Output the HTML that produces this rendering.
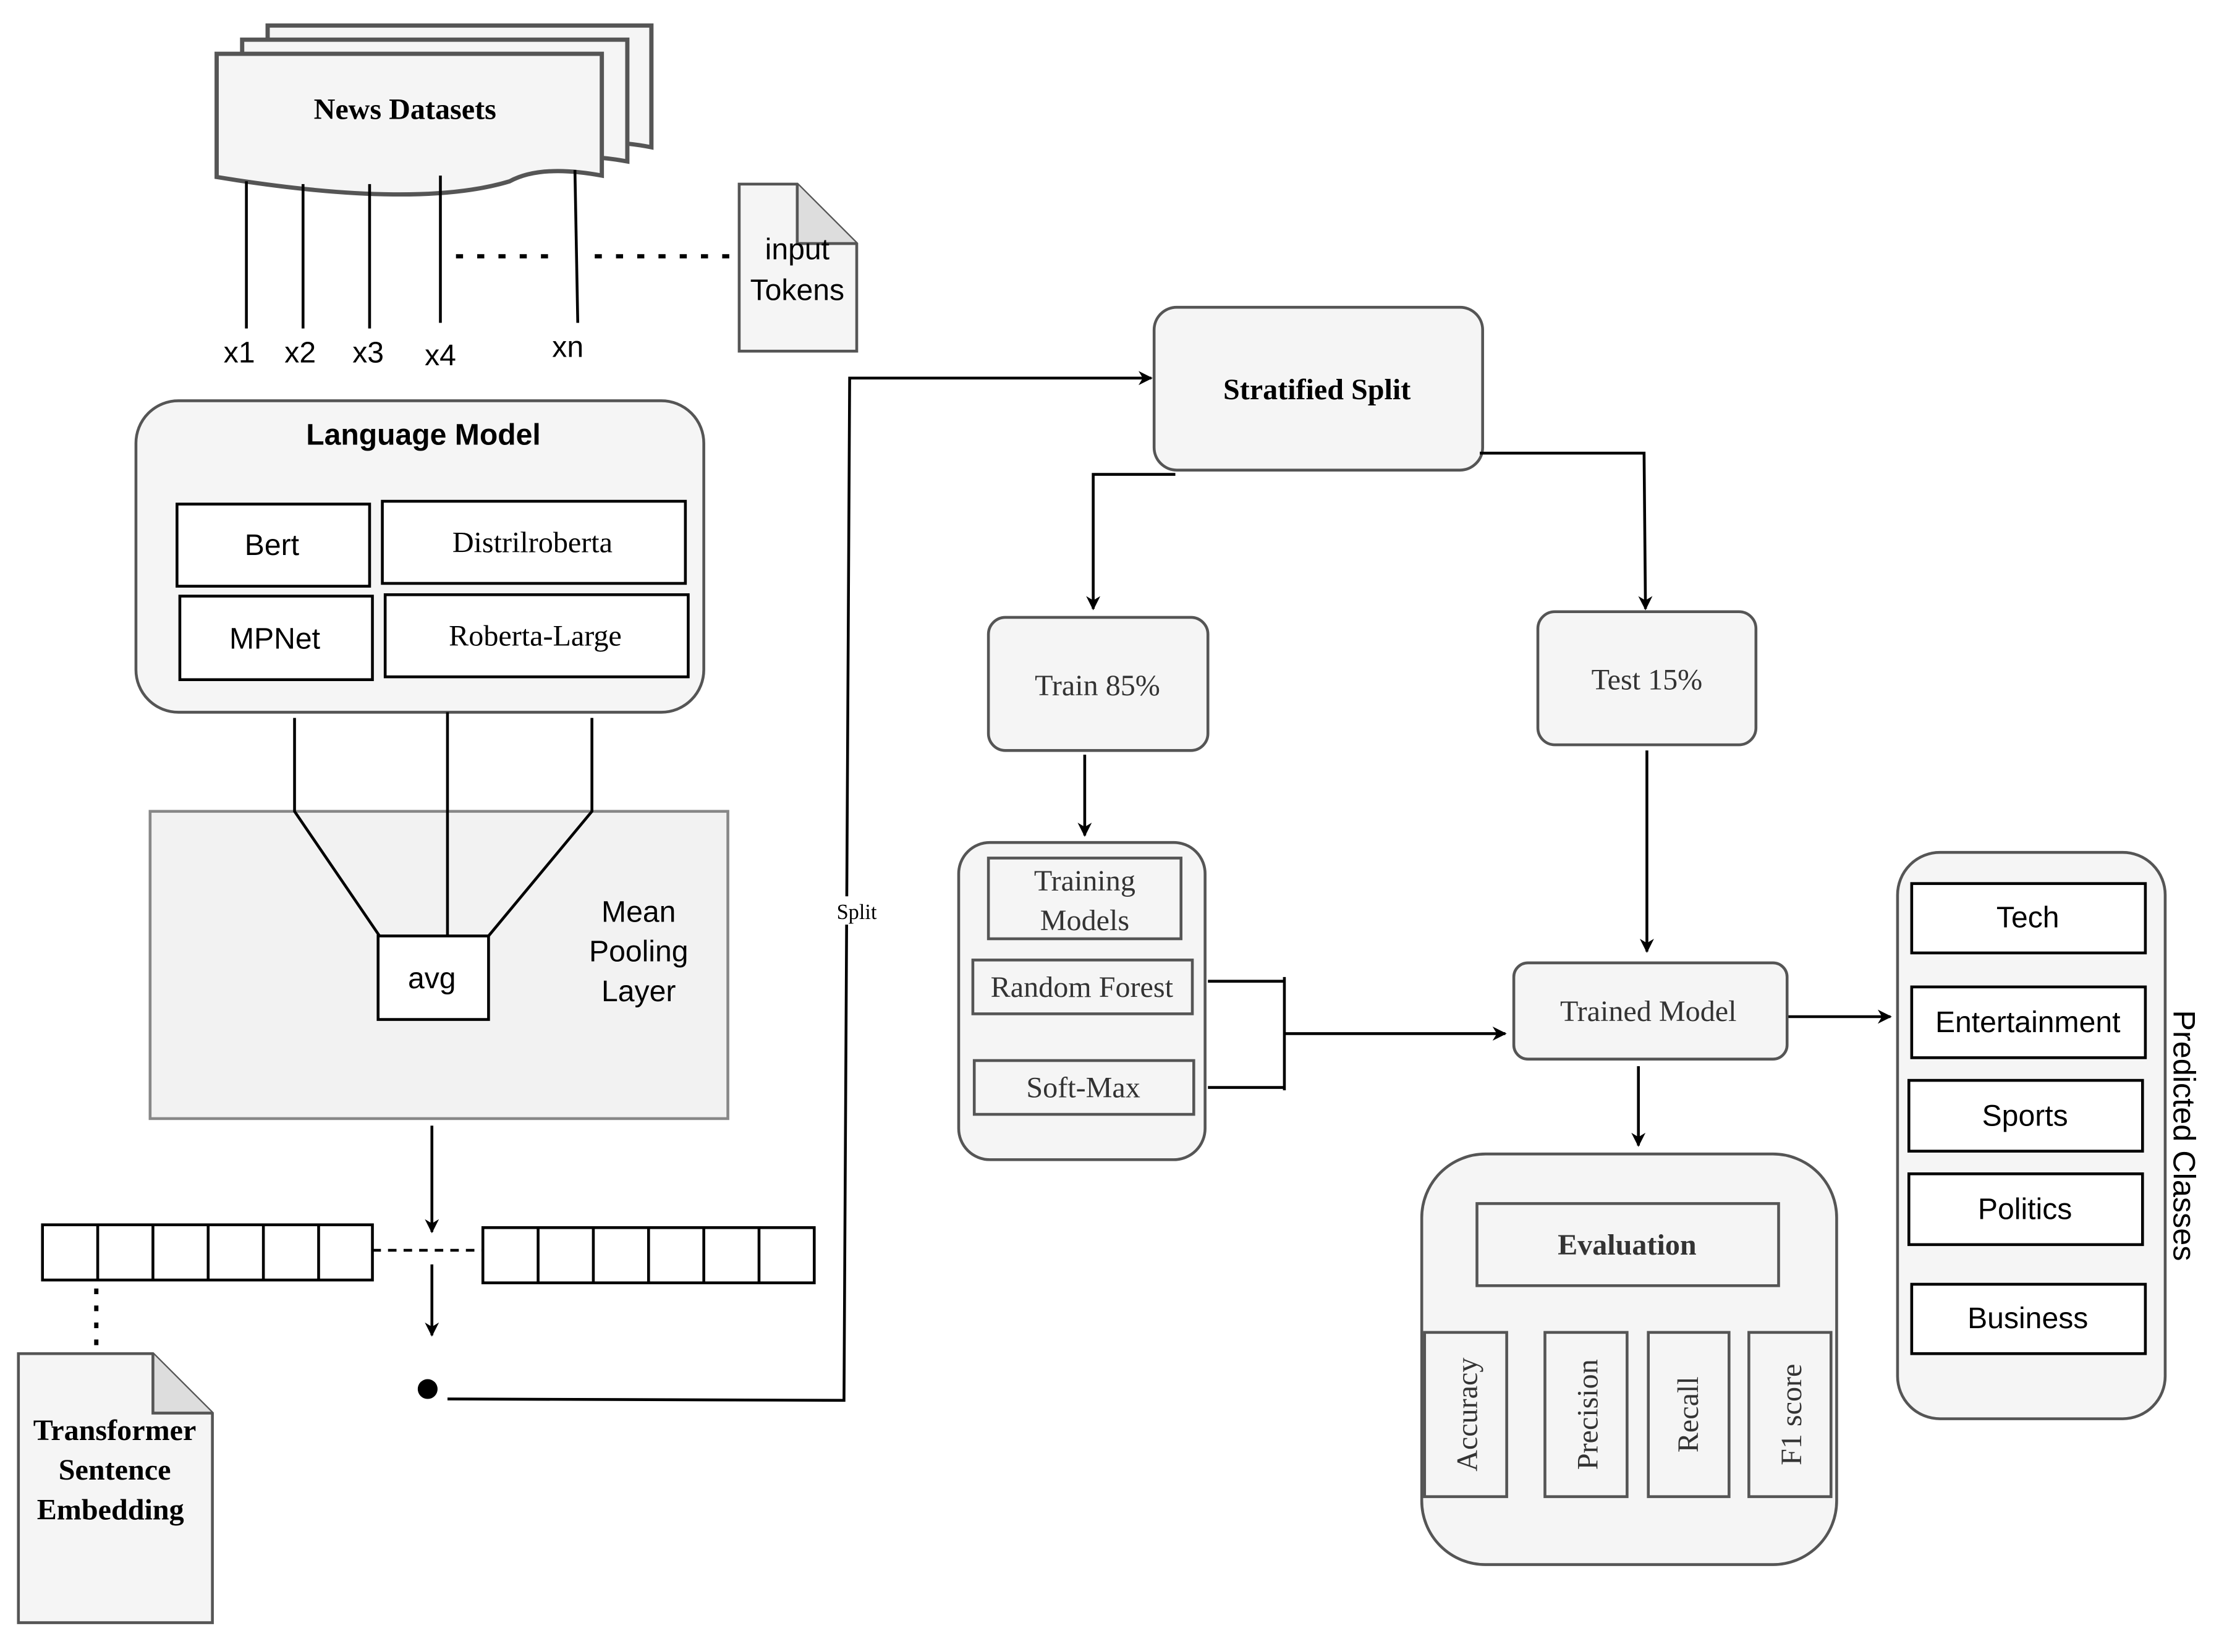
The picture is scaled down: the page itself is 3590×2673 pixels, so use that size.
<!DOCTYPE html>
<html><head><meta charset="utf-8"><style>
html,body{margin:0;padding:0;background:#fff;}
svg{display:block;}
.s{font-family:"Liberation Sans",sans-serif;}
.r{font-family:"Liberation Serif",serif;}
</style></head><body>
<svg width="3590" height="2673" viewBox="0 0 1567 1166.7" xmlns="http://www.w3.org/2000/svg">
<defs><marker id="a" markerWidth="10" markerHeight="10" refX="9" refY="5" orient="auto" markerUnits="userSpaceOnUse" viewBox="0 0 10 10"><path d="M0,0 L10,5 L0,10 L3,5z" fill="#000"/></marker></defs>
<g stroke="#555" stroke-width="3" fill="#f5f5f5">
<path d="M189,18 H460 V104 Q420,96 395,108 Q330,128 189,112 Z"/>
<path d="M171,28 H443 V114 Q400,106 378,118 Q312,138 171,122 Z"/>
<path d="M153,38 H425 V124 Q382,116 360,128 Q294,148 153,125 Z"/>
</g>
<text x="286" y="84" class="r" font-size="21" font-weight="bold" text-anchor="middle">News Datasets</text>
<g stroke="#000" stroke-width="2">
<line x1="174" y1="128" x2="174" y2="232"/><line x1="214" y1="130" x2="214" y2="232"/>
<line x1="261" y1="130" x2="261" y2="232"/><line x1="311" y1="124" x2="311" y2="228"/>
<line x1="406" y1="120" x2="408" y2="228"/>
<line x1="322" y1="181" x2="392" y2="181" stroke-width="3" stroke-dasharray="5,10"/>
<line x1="420" y1="181" x2="520" y2="181" stroke-width="3" stroke-dasharray="5,10"/>
</g>
<g class="s" font-size="21" text-anchor="middle">
<text x="169" y="256">x1</text><text x="212" y="256">x2</text><text x="260" y="256">x3</text><text x="311" y="258">x4</text><text x="401" y="252">xn</text>
</g>
<path d="M522,130 H563 L605,172 V248 H522 Z" fill="#f5f5f5" stroke="#555" stroke-width="2"/>
<path d="M563,130 V172 H605" fill="#ddd" stroke="#555" stroke-width="2"/>
<text x="563" y="183" class="s" font-size="21" text-anchor="middle">input</text>
<text x="563" y="212" class="s" font-size="21" text-anchor="middle">Tokens</text>

<rect x="96" y="283" width="401" height="220" rx="30" fill="#f5f5f5" stroke="#555" stroke-width="2"/>
<text x="299" y="314" class="s" font-size="21" font-weight="bold" text-anchor="middle">Language Model</text>
<g fill="#fff" stroke="#000" stroke-width="2">
<rect x="125" y="356" width="136" height="58"/><rect x="270" y="354" width="214" height="58"/>
<rect x="127" y="421" width="136" height="59"/><rect x="272" y="420" width="214" height="58"/>
</g>
<text x="192" y="392" class="s" font-size="21" text-anchor="middle">Bert</text>
<text x="376" y="390" class="r" font-size="21" text-anchor="middle">Distrilroberta</text>
<text x="194" y="458" class="s" font-size="21" text-anchor="middle">MPNet</text>
<text x="378" y="456" class="r" font-size="21" text-anchor="middle">Roberta-Large</text>

<rect x="106" y="573" width="408" height="217" fill="#f2f2f2" stroke="#888" stroke-width="2"/>
<g stroke="#000" stroke-width="2" fill="none">
<path d="M208,507 V573 L268,661"/><path d="M418,507 V573 L345,661"/><line x1="316" y1="503" x2="316" y2="661"/>
</g>
<rect x="267" y="661" width="78" height="59" fill="#fff" stroke="#000" stroke-width="2"/>
<text x="305" y="698" class="s" font-size="21" text-anchor="middle">avg</text>
<g class="s" font-size="21" text-anchor="middle"><text x="451" y="651">Mean</text><text x="451" y="679">Pooling</text><text x="451" y="707">Layer</text></g>

<g stroke="#000" stroke-width="2" fill="none">
<line x1="305" y1="795" x2="305" y2="870" marker-end="url(#a)"/>
<rect x="30" y="865" width="233" height="39" fill="#fff"/>
<path d="M69,865V904M108,865V904M147,865V904M186,865V904M225,865V904"/>
<rect x="341" y="867" width="234" height="39" fill="#fff"/>
<path d="M380,867V906M419,867V906M458,867V906M497,867V906M536,867V906"/>
<line x1="263" y1="883" x2="341" y2="883" stroke-dasharray="6,5"/>
<line x1="305" y1="893" x2="305" y2="943" marker-end="url(#a)"/>
<line x1="68" y1="910" x2="68" y2="950" stroke-width="3" stroke-dasharray="4,8"/>
<path d="M316,988 L596,989 L600,267 L813,267" marker-end="url(#a)"/>
</g>
<circle cx="302" cy="981" r="7" fill="#000"/>
<rect x="586" y="633" width="38" height="20" fill="#fff"/>
<text x="605" y="649" class="r" font-size="15" text-anchor="middle">Split</text>
<path d="M13,956 H108 L150,998 V1146 H13 Z" fill="#f5f5f5" stroke="#555" stroke-width="2"/>
<path d="M108,956 V998 H150" fill="#ddd" stroke="#555" stroke-width="2"/>
<g class="r" font-size="21" font-weight="bold" text-anchor="middle"><text x="81" y="1017">Transformer</text><text x="81" y="1045">Sentence</text><text x="78" y="1073">Embedding</text></g>

<rect x="815" y="217" width="232" height="115" rx="16" fill="#f5f5f5" stroke="#555" stroke-width="2"/>
<text x="930" y="282" class="r" font-size="21" font-weight="bold" text-anchor="middle">Stratified Split</text>
<g stroke="#000" stroke-width="2" fill="none">
<path d="M830,335 H772 V430" marker-end="url(#a)"/>
<path d="M1045,320 H1161 L1162,430" marker-end="url(#a)"/>
<line x1="766" y1="533" x2="766" y2="590" marker-end="url(#a)"/>
<line x1="1163" y1="530" x2="1163" y2="672" marker-end="url(#a)"/>
<path d="M853,693 H907 M853,768 H907 M907,690 V770"/>
<line x1="907" y1="730" x2="1063" y2="730" marker-end="url(#a)"/>
<line x1="1262" y1="718" x2="1335" y2="718" marker-end="url(#a)"/>
<line x1="1157" y1="753" x2="1157" y2="809" marker-end="url(#a)"/>
</g>
<g fill="#f5f5f5" stroke="#555" stroke-width="2">
<rect x="698" y="436" width="155" height="94" rx="12"/>
<rect x="1086" y="432" width="154" height="94" rx="12"/>
<rect x="677" y="595" width="174" height="224" rx="22"/>
<rect x="1069" y="680" width="193" height="68" rx="10"/>
<rect x="1004" y="815" width="293" height="290" rx="45"/>
<rect x="1340" y="602" width="189" height="400" rx="30"/>
</g>
<g class="r" font-size="21" fill="#333" text-anchor="middle">
<text x="775" y="491">Train 85%</text><text x="1163" y="487">Test 15%</text>
<text x="1164" y="721">Trained Model</text>
</g>
<g fill="none" stroke="#555" stroke-width="2">
<rect x="698" y="606" width="136" height="57"/><rect x="687" y="678" width="155" height="38"/><rect x="688" y="749" width="155" height="38"/>
<rect x="1043" y="850" width="213" height="58"/>
<rect x="1006" y="941" width="58" height="116"/><rect x="1091" y="941" width="58" height="116"/>
<rect x="1164" y="941" width="57" height="116"/><rect x="1235" y="941" width="58" height="116"/>
</g>
<g class="r" font-size="21" fill="#333" text-anchor="middle">
<text x="766" y="629">Training</text><text x="766" y="657">Models</text>
<text x="764" y="704">Random Forest</text><text x="765" y="775">Soft-Max</text>
</g>
<text x="1149" y="886" class="r" font-size="21" font-weight="bold" text-anchor="middle" fill="#333">Evaluation</text>
<g class="r" font-size="21" fill="#333" text-anchor="middle">
<text transform="translate(1043,999) rotate(-90)">Accuracy</text>
<text transform="translate(1128,999) rotate(-90)">Precision</text>
<text transform="translate(1199,999) rotate(-90)">Recall</text>
<text transform="translate(1272,999) rotate(-90)">F1 score</text>
</g>
<g fill="#fff" stroke="#000" stroke-width="2">
<rect x="1350" y="624" width="165" height="49"/><rect x="1350" y="697" width="165" height="50"/>
<rect x="1348" y="763" width="165" height="50"/><rect x="1348" y="829" width="165" height="50"/>
<rect x="1350" y="907" width="165" height="49"/>
</g>
<g class="s" font-size="21" text-anchor="middle">
<text x="1432" y="655">Tech</text><text x="1432" y="729">Entertainment</text><text x="1430" y="795">Sports</text><text x="1430" y="861">Politics</text><text x="1432" y="938">Business</text>
</g>
<text transform="translate(1535,802) rotate(90)" class="s" font-size="22" text-anchor="middle">Predicted Classes</text>
</svg>
</body></html>
